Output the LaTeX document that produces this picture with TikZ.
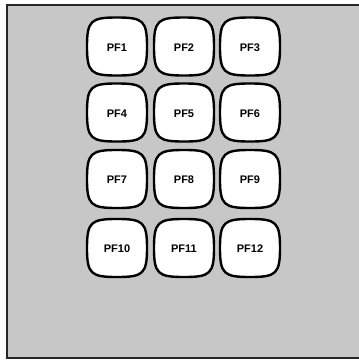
\documentclass[tikz,border=0pt]{standalone}
\usepackage{fontspec}
\setmainfont{Liberation Sans}
\begin{document}
\begin{tikzpicture}[x=1pt,y=-1pt,
  panel/.style={fill=black!22},
  border/.style={line width=1.3pt,draw=black!85},
  keylabel/.style={inner sep=0pt,font=\fontsize{11}{12}\selectfont\bfseries},
  keyline/.style={line width=2.4pt,draw=black,fill=white}]
\useasboundingbox (0,0) rectangle (359,360);
\fill[panel] (7,5) rectangle (359,358);
\draw[border] (359,5) -- (7,5) -- (7,358) -- (359,358);
% key outlines (squircles)
\foreach \cx/\cy in {117/46.5,184/46.5,250/46.5,117/112.5,184/112.5,250/112.5,117/179,184/179,250/179,117/248,184/248,250/248}{
  \draw[keyline,shift={(\cx,\cy)}]
    (0,-29) .. controls (26,-29) and (30,-26) .. (30,0)
    .. controls (30,26) and (26,29) .. (0,29)
    .. controls (-26,29) and (-30,26) .. (-30,0)
    .. controls (-30,-26) and (-26,-29) .. cycle;
}
\node[keylabel] (pf1) at (117,47.5) {PF1};
\node[keylabel] (pf2) at (184,47.5) {PF2};
\node[keylabel] (pf3) at (250,47.5) {PF3};
\node[keylabel] (pf4) at (117,113.5) {PF4};
\node[keylabel] (pf5) at (184,113.5) {PF5};
\node[keylabel] (pf6) at (250,113.5) {PF6};
\node[keylabel] (pf7) at (117,180) {PF7};
\node[keylabel] (pf8) at (184,180) {PF8};
\node[keylabel] (pf9) at (250,180) {PF9};
\node[keylabel] (pf10) at (117,249) {PF10};
\node[keylabel] (pf11) at (184,249) {PF11};
\node[keylabel] (pf12) at (250,249) {PF12};
\end{tikzpicture}
\end{document}
